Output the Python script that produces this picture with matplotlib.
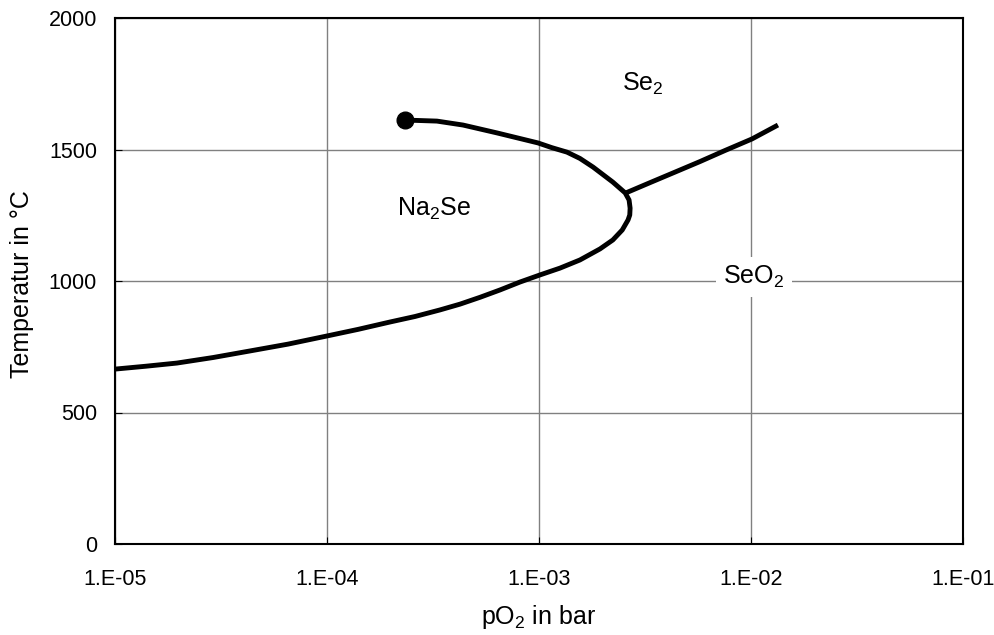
import matplotlib.pyplot as plt
import numpy as np

plt.rcParams['font.family'] = ['Liberation Sans', 'DejaVu Sans']
plt.rcParams['mathtext.fontset'] = 'custom'
plt.rcParams['mathtext.rm'] = 'Liberation Sans'
plt.rcParams['mathtext.it'] = 'Liberation Sans'
plt.rcParams['mathtext.bf'] = 'Liberation Sans:bold'

# Na2Se stability boundary (pO2 in bar, T in degC)
na2se_p = [2.33e-4, 3.30e-4, 4.38e-4, 6.34e-4, 9.89e-4, 1.15e-3, 1.355e-3, 1.56e-3,
           1.80e-3, 2.23e-3, 2.55e-3, 2.66e-3, 2.69e-3, 2.68e-3, 2.63e-3, 2.47e-3,
           2.23e-3, 1.94e-3, 1.56e-3, 1.256e-3, 1.01e-3, 8.13e-4, 6.55e-4, 5.27e-4,
           4.24e-4, 3.41e-4, 2.60e-4, 1.98e-4, 1.40e-4, 1.0e-4, 6.55e-5, 4.33e-5,
           2.90e-5, 1.96e-5, 1.40e-5, 1.0e-5]
na2se_T = [1612, 1608, 1593, 1563, 1525, 1507, 1490, 1466,
           1433, 1376, 1335, 1308, 1277, 1251, 1232, 1194,
           1156, 1122, 1080, 1049, 1023, 996, 966, 938,
           912, 890, 865, 844, 816, 791, 760, 734,
           709, 688, 676, 665]

# Se2 / SeO2 boundary
se_p = [2.57e-3, 3.34e-3, 4.38e-3, 5.74e-3, 7.53e-3, 1.01e-2, 1.34e-2]
se_T = [1335, 1374, 1414, 1454, 1496, 1540, 1593]

fig = plt.figure(figsize=(9.94, 6.35), dpi=100)
ax = fig.add_axes([115/994, 1 - 544/635, (963-115)/994, (544-18)/635])

ax.plot(na2se_p, na2se_T, color='black', lw=3.5, solid_capstyle='butt',
        solid_joinstyle='round', zorder=3)
ax.plot(se_p, se_T, color='black', lw=3.5, solid_capstyle='butt',
        solid_joinstyle='round', zorder=3)
ax.plot([na2se_p[0]], [na2se_T[0]], 'o', color='black', ms=12, zorder=4)

ax.set_xscale('log')
ax.set_xlim(1e-5, 1e-1)
ax.set_ylim(0, 2000)
ax.set_xticks([1e-5, 1e-4, 1e-3, 1e-2, 1e-1])
ax.set_xticklabels(['1.E-05', '1.E-04', '1.E-03', '1.E-02', '1.E-01'])
ax.xaxis.set_minor_locator(plt.NullLocator())
ax.set_yticks([0, 500, 1000, 1500, 2000])
ax.grid(True, color='#808080', lw=1)
ax.set_axisbelow(True)
for s in ax.spines.values():
    s.set_color('black')
    s.set_linewidth(1.5)
ax.tick_params(direction='in', length=5, labelsize=15.5, color='black')
ax.tick_params(axis='x', pad=18)
ax.tick_params(axis='y', pad=13)

fig.text(539/994, 1 - 617/635, 'pO$_2$ in bar', fontsize=18, ha='center', va='center')
fig.text(22/994, 1 - 284/635, 'Temperatur in °C', fontsize=18, ha='center', va='center',
         rotation=90)

ax.text(3.10e-3, 1749, 'Se$_2$', fontsize=18, ha='center', va='center')
ax.text(3.2e-4, 1274, 'Na$_2$Se', fontsize=18, ha='center', va='center')
ax.text(1.033e-2, 1015, 'SeO$_2$', fontsize=18, ha='center', va='center',
        bbox=dict(facecolor='white', edgecolor='none', pad=5))

fig.savefig('out.png', dpi=100)
